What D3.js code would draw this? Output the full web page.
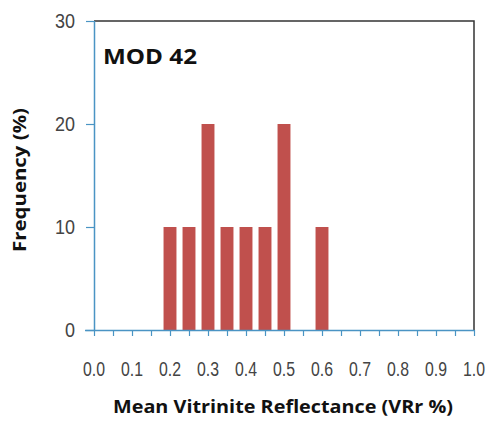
<!DOCTYPE html>
<html>
<head>
<meta charset="utf-8">
<script src="https://cdn.jsdelivr.net/npm/d3@7"></script>
<style>
  body { margin: 0; background: #fff; }
  svg { display: block; }
</style>
</head>
<body>
<svg width="490" height="421"></svg>
<script>
// bin centres (VRr %) and frequency (%)
var binCentres = [0.20, 0.25, 0.30, 0.35, 0.40, 0.45, 0.50, 0.60];
var frequencies = [10, 10, 20, 10, 10, 10, 20, 10];
var xTickLabels = [0.0, 0.1, 0.2, 0.3, 0.4, 0.5, 0.6, 0.7, 0.8, 0.9, 1.0];
var xMinorTicks = d3.range(0, 21).map(d => d * 0.05);
var yTickLabels = [0, 10, 20, 30];

var svg = d3.select("svg");

var xScale = d3.scaleLinear().domain([0, 1]).range([94, 474]);
var yScale = d3.scaleLinear().domain([0, 30]).range([330, 21]);

var axisBlue = "#4a94c4";
var labelFont = "'Liberation Sans', Arial, sans-serif";
var titleFont = "'Open Sans', Lato, sans-serif";

// frame: top and right in dark grey
svg.append("path")
    .attr("d", `M${xScale(0)},${yScale(30)}H${xScale(1)}V${yScale(0)}`)
    .attr("fill", "none")
    .attr("stroke", "#333")
    .attr("stroke-width", 1.5);

// Bars
var binWidth = xScale(0.05) - xScale(0);
var barWidth = binWidth * 0.68;
svg.append("g")
    .selectAll("rect")
    .data(binCentres)
    .enter()
    .append("rect")
    .attr("x", d => xScale(d) - barWidth / 2)
    .attr("width", barWidth)
    .attr("y", (d, i) => yScale(frequencies[i]))
    .attr("height", (d, i) => yScale(0) - yScale(frequencies[i]))
    .attr("fill", "#c0504d");

// X axis: minor ticks every 0.05, labels every 0.1
var xAxis = d3.axisBottom(xScale)
    .tickValues(xMinorTicks)
    .tickSize(6)
    .tickFormat("");
var xAxisG = svg.append("g")
    .attr("transform", `translate(0,${yScale(0)})`)
    .call(xAxis);
xAxisG.select(".domain").attr("stroke", axisBlue).attr("stroke-width", 1.5).attr("d", `M${xScale(0) - 9},0.5H${xScale(1)}`);
xAxisG.selectAll(".tick line").attr("stroke", axisBlue).attr("stroke-width", 1.2);

// narrow-looking tick labels
svg.append("g")
    .selectAll("text")
    .data(xTickLabels)
    .enter()
    .append("text")
    .attr("x", d => xScale(d))
    .attr("y", 376)
    .attr("text-anchor", "middle")
    .attr("textLength", 22)
    .attr("lengthAdjust", "spacingAndGlyphs")
    .style("font-family", labelFont)
    .style("font-size", "20px")
    .style("fill", "#444")
    .text(d => d3.format(".1f")(d));

// Y axis
var yAxis = d3.axisLeft(yScale)
    .tickValues(yTickLabels)
    .tickSize(8)
    .tickPadding(11)
    .tickFormat(d3.format("d"));
var yAxisG = svg.append("g")
    .attr("transform", `translate(${xScale(0)},0)`)
    .call(yAxis);
yAxisG.select(".domain").attr("stroke", axisBlue).attr("stroke-width", 1.5).attr("d", `M0.5,${yScale(30)}V${yScale(0)}`);
yAxisG.selectAll(".tick line").attr("stroke", axisBlue).attr("stroke-width", 1.2);
yAxisG.selectAll(".tick text")
    .attr("textLength", d => String(d).length * 10)
    .attr("lengthAdjust", "spacingAndGlyphs")
    .style("font-family", labelFont)
    .style("font-size", "20px")
    .style("fill", "#444");

// Chart label
svg.append("text")
    .attr("x", 103)
    .attr("y", 64)
    .attr("textLength", 94)
    .attr("lengthAdjust", "spacingAndGlyphs")
    .style("font-family", titleFont)
    .style("font-weight", "bold")
    .style("font-size", "22px")
    .style("fill", "#111")
    .text("MOD 42");

// Axis titles
svg.append("text")
    .attr("x", 283)
    .attr("y", 413)
    .attr("text-anchor", "middle")
    .attr("textLength", 340)
    .attr("lengthAdjust", "spacingAndGlyphs")
    .style("font-family", titleFont)
    .style("font-weight", "bold")
    .style("font-size", "18px")
    .style("fill", "#111")
    .text("Mean Vitrinite Reflectance (VRr %)");

svg.append("text")
    .attr("transform", "translate(26,180) rotate(-90)")
    .attr("text-anchor", "middle")
    .attr("textLength", 144)
    .attr("lengthAdjust", "spacingAndGlyphs")
    .style("font-family", titleFont)
    .style("font-weight", "bold")
    .style("font-size", "17px")
    .style("fill", "#111")
    .text("Frequency (%)");
</script>
</body>
</html>
